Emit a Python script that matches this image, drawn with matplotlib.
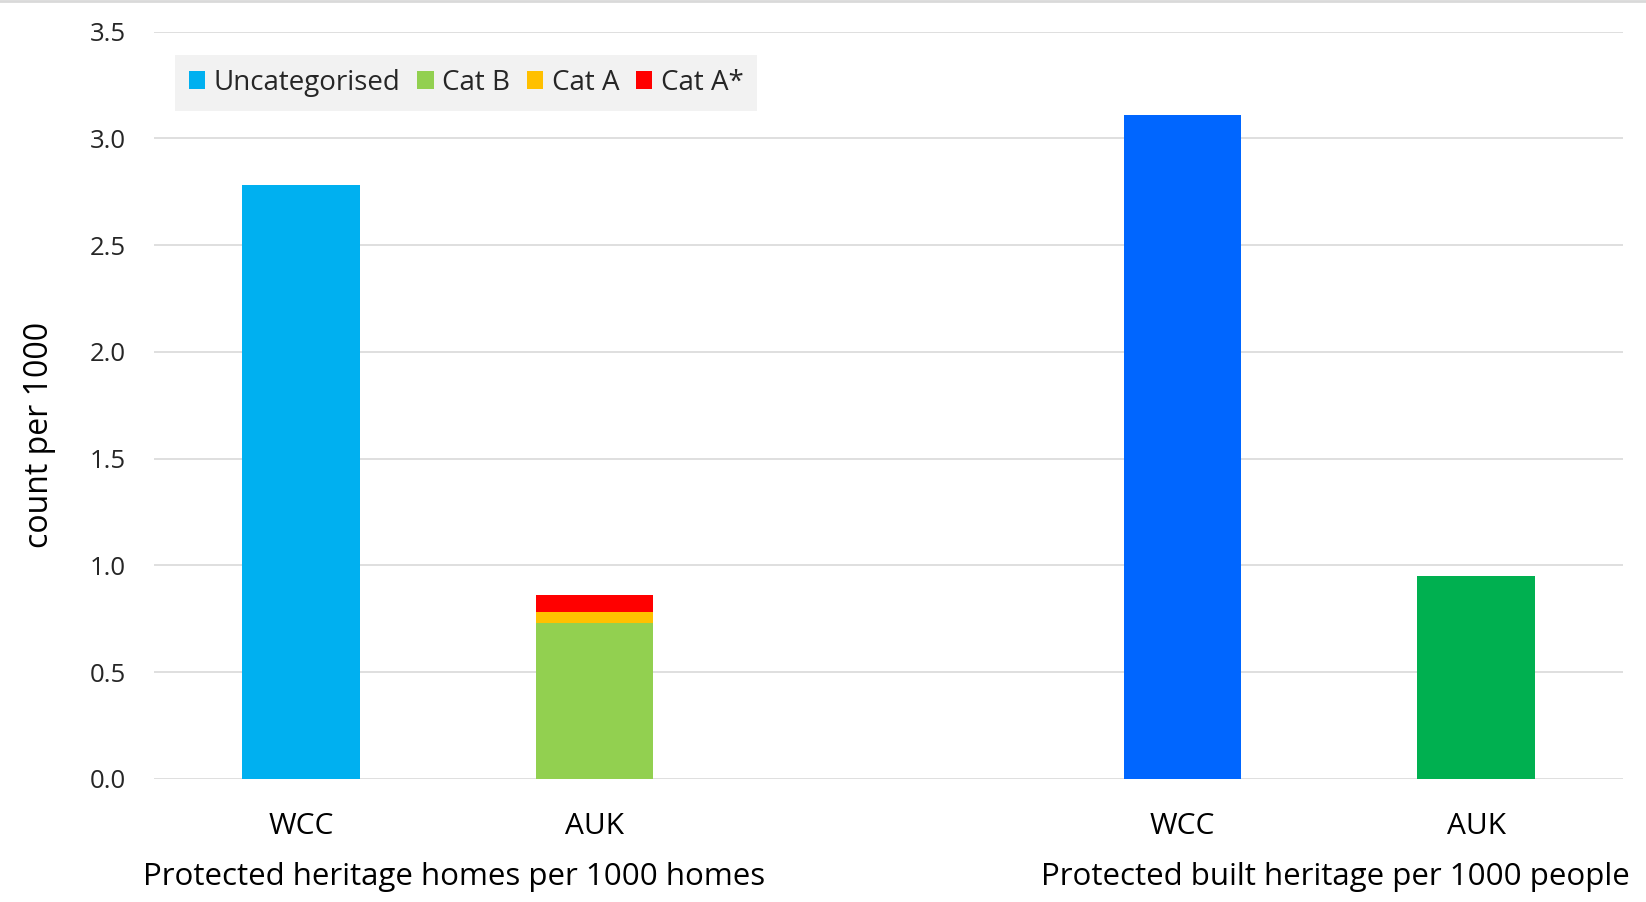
import numpy as np
import matplotlib.pyplot as plt

plt.rcParams['font.family'] = ['Open Sans', 'DejaVu Sans']

# data
group_labels = ['Protected heritage homes per 1000 homes', 'Protected built heritage per 1000 people']
bar_labels = ['WCC', 'AUK', 'WCC', 'AUK']

# homes group (WCC is uncategorised, AUK is stacked by category)
uncategorised = [2.78, 0.0]
cat_b = [0.0, 0.73]
cat_a = [0.0, 0.05]
cat_a_star = [0.0, 0.08]

# people group
people_values = [3.11, 0.95]
people_colors = ['#0066FF', '#00B050']

yticks = np.arange(0, 3.51, 0.5)

x = np.array([0, 1, 3, 4])
width = 0.4
text_col = '#262626'

fig = plt.figure(figsize=(16.46, 9.02), dpi=100)
ax = fig.add_axes([0.0936, 0.1364, 0.8924, 0.8286])

xh = x[:2]
ax.bar(xh, uncategorised, width, color='#00B0F0', label='Uncategorised', zorder=3)
ax.bar(xh, cat_b, width, color='#92D050', label='Cat B', zorder=3)
b2 = np.array(cat_b)
ax.bar(xh, cat_a, width, bottom=b2, color='#FFC000', label='Cat A', zorder=3)
b3 = b2 + np.array(cat_a)
ax.bar(xh, cat_a_star, width, bottom=b3, color='#FF0000', label='Cat A*', zorder=3)

ax.bar(x[2:], people_values, width, color=people_colors, zorder=3)

ax.set_xlim(-0.5, 4.5)
ax.set_ylim(0, 3.5)
ax.set_yticks(yticks)
ax.set_yticklabels([f'{v:.1f}' for v in yticks], fontsize=18.5, color=text_col)
ax.set_xticks(x)
ax.set_xticklabels(bar_labels, fontsize=21.5, color='black')
ax.tick_params(axis='y', length=0, pad=20)
ax.tick_params(axis='x', length=0, pad=24)
ax.grid(axis='y', color='#D9D9D9', linewidth=1.2, zorder=0)
for s in ax.spines.values():
    s.set_visible(False)

# y label sits a bit below the axes centre in the reference
fig.text(40 / 1646, 1 - 435 / 902, 'count per 1000', rotation=90, ha='center', va='center',
         fontsize=23, color='black')

for i, g in enumerate(group_labels):
    ax.text((x[2 * i] + x[2 * i + 1]) / 2 + 0.02, -0.46, g, ha='center', va='center',
            fontsize=22.5, color='black')

leg = ax.legend(loc='upper left', bbox_to_anchor=(0.014, 0.969), borderaxespad=0, ncol=4,
                fontsize=20, frameon=True, facecolor='#F2F2F2', edgecolor='none', fancybox=False,
                handlelength=0.6, handleheight=0.6, handletextpad=0.3, columnspacing=0.6,
                borderpad=0.5, framealpha=1)
for t in leg.get_texts():
    t.set_color(text_col)

fig.add_artist(plt.Line2D([0, 1], [0.999, 0.999], color='#D9D9D9', linewidth=2, transform=fig.transFigure))

fig.savefig('out.png', dpi=100)
